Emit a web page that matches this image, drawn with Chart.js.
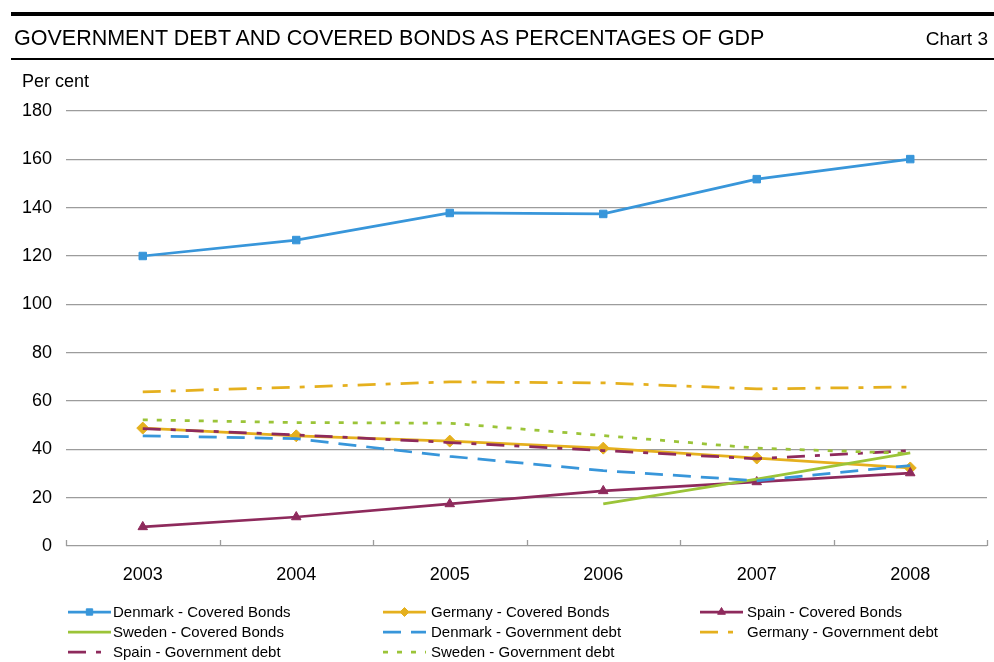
<!DOCTYPE html>
<html>
<head>
<meta charset="utf-8">
<title>Government debt and covered bonds</title>
<script src="https://cdn.jsdelivr.net/npm/chart.js@4.4.1/dist/chart.umd.min.js"></script>
<style>
  body { margin: 0; background: #fff; font-family: 'Liberation Sans', Arial, sans-serif; color: #000; }
  #wrap { position: relative; width: 994px; height: 662px; overflow: hidden; }
  #chart { position: absolute; left: 0; top: 0; }
  .rule { position: absolute; left: 11px; width: 983px; background: #000; }
  #title { position: absolute; left: 14px; top: 28px; font-size: 21.5px; line-height: 21px; white-space: nowrap; }
  #chartNo { position: absolute; right: 6px; top: 29px; font-size: 19px; line-height: 19px; }
  #unit { position: absolute; left: 22px; top: 72px; font-size: 18px; line-height: 18px; }
</style>
</head>
<body>
<div id="wrap">
  <canvas id="chart" width="994" height="662"></canvas>
  <div class="rule" style="top:12px;height:4px"></div>
  <div id="title">GOVERNMENT DEBT AND COVERED BONDS AS PERCENTAGES OF GDP</div>
  <div id="chartNo">Chart 3</div>
  <div class="rule" style="top:58px;height:2px"></div>
  <div id="unit">Per cent</div>
</div>
<script>
const years = ['2003', '2004', '2005', '2006', '2007', '2008'];
const yTicks = [0, 20, 40, 60, 80, 100, 120, 140, 160, 180];

const dkCovered = [120.0, 126.6, 137.8, 137.4, 151.8, 160.1];
const deCovered = [48.8, 45.6, 43.4, 40.5, 36.4, 32.3];
const esCovered = [7.9, 12.0, 17.4, 22.8, 26.5, 30.2];
const seCovered = [null, null, null, 17.4, 27.7, 38.5];
const dkDebt = [45.6, 44.4, 37.1, 31.2, 27.0, 33.3];
const deDebt = [63.8, 65.7, 67.9, 67.5, 65.0, 65.8];
const esDebt = [48.6, 46.0, 42.8, 39.5, 36.1, 39.5];
const seDebt = [52.2, 51.1, 50.8, 45.7, 40.5, 38.3];

const BLUE = 'rgb(56,150,218)';
const GOLD = 'rgb(229,176,30)';
const MAROON = 'rgb(142,42,92)';
const GREEN = 'rgb(155,196,56)';
const FONT = "'Liberation Sans', Arial, sans-serif";

function series(label, data, color, opts) {
  return Object.assign({
    label: label,
    data: data,
    borderColor: color,
    backgroundColor: color,
    borderWidth: 2.75,
    tension: 0,
    fill: false,
    pointRadius: 0,
    pointHoverRadius: 0,
    pointBorderWidth: 1,
    borderDash: []
  }, opts);
}

const datasets = [
  series('Denmark - Covered Bonds', dkCovered, BLUE, { pointStyle: 'rect', pointRadius: 5.3 }),
  series('Germany - Covered Bonds', deCovered, GOLD, { pointStyle: 'rectRot', pointRadius: 6 }),
  series('Spain - Covered Bonds', esCovered, MAROON, { pointStyle: 'triangle', pointRadius: 5.5 }),
  series('Sweden - Covered Bonds', seCovered, GREEN, {}),
  series('Denmark - Government debt', dkDebt, BLUE, { borderDash: [18, 10] }),
  series('Germany - Government debt', deDebt, GOLD, { borderDash: [18, 10, 5, 10] }),
  series('Spain - Government debt', esDebt, MAROON, { borderDash: [18, 10, 5, 10] }),
  series('Sweden - Government debt', seDebt, GREEN, { borderDash: [5, 9] })
];
// later series are painted over earlier ones
datasets.forEach((d, i) => { d.order = datasets.length - i; });

// short inward tick marks between the years on the category axis
const yearTicks = {
  id: 'yearTicks',
  afterDraw(chart) {
    const x = chart.scales.x;
    const ctx = chart.ctx;
    const step = x.getPixelForValue(1) - x.getPixelForValue(0);
    const bottom = chart.chartArea.bottom;
    ctx.save();
    ctx.strokeStyle = '#9c9c9c';
    ctx.lineWidth = 1.3;
    for (let i = 0; i <= years.length; i++) {
      const px = Math.round(x.getPixelForValue(0) - step / 2 + i * step) + 0.5;
      ctx.beginPath();
      ctx.moveTo(px, bottom);
      ctx.lineTo(px, bottom - 6);
      ctx.stroke();
    }
    ctx.restore();
  }
};

// three-column legend under the axis
const gridLegend = {
  id: 'gridLegend',
  afterDraw(chart) {
    const ctx = chart.ctx;
    const colLine = [68, 383, 700];
    const colText = [113, 431, 747];
    const rowY = [612, 632, 652];
    ctx.save();
    chart.data.datasets.forEach((ds, i) => {
      const col = i % 3, row = Math.floor(i / 3);
      const x0 = colLine[col], x1 = x0 + 43, y = rowY[row];
      ctx.strokeStyle = ds.borderColor;
      ctx.lineWidth = ds.borderWidth;
      ctx.setLineDash(ds.borderDash || []);
      ctx.beginPath();
      ctx.moveTo(x0, y);
      ctx.lineTo(x1, y);
      ctx.stroke();
      ctx.setLineDash([]);
      if (ds.pointRadius > 0) {
        ctx.fillStyle = ds.backgroundColor;
        ctx.strokeStyle = ds.borderColor;
        ctx.lineWidth = 1;
        Chart.helpers.drawPoint(ctx, { pointStyle: ds.pointStyle, radius: 4.5, rotation: 0, borderWidth: 1 }, (x0 + x1) / 2, y);
      }
      ctx.fillStyle = '#000';
      ctx.font = '15px ' + FONT;
      ctx.textBaseline = 'middle';
      ctx.textAlign = 'left';
      ctx.fillText(ds.label, colText[col], y + 1);
    });
    ctx.restore();
  }
};

new Chart(document.getElementById('chart'), {
  type: 'line',
  data: { labels: years, datasets: datasets },
  options: {
    responsive: false,
    animation: false,
    events: [],
    layout: { padding: { top: 111, left: 10, right: 6, bottom: 70 } },
    plugins: { legend: { display: false }, tooltip: { enabled: false } },
    scales: {
      x: {
        type: 'category',
        offset: true,
        grid: { display: false },
        border: { display: false },
        ticks: { color: '#000', font: { family: FONT, size: 18 }, padding: 10, maxRotation: 0 },
        afterFit(scale) { scale.height = 46; }
      },
      y: {
        min: 0,
        max: 180,
        afterBuildTicks(scale) { scale.ticks = yTicks.map(v => ({ value: v })); },
        grid: { color: '#9c9c9c', lineWidth: 1.3, drawTicks: false },
        border: { display: false },
        ticks: { color: '#000', font: { family: FONT, size: 18 }, padding: 14 },
        afterFit(scale) { scale.width = 56; }
      }
    }
  },
  plugins: [yearTicks, gridLegend]
});
</script>
</body>
</html>
